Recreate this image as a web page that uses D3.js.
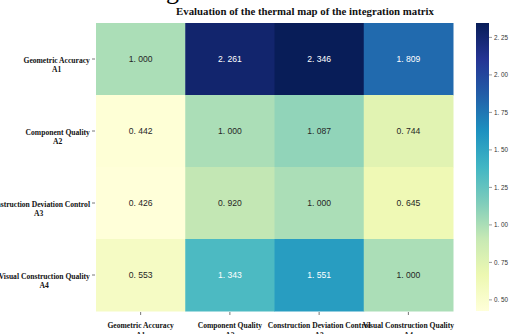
<!DOCTYPE html>
<html lang="en">
<head>
<meta charset="UTF-8">
<title>Integration matrix heatmap</title>
<script src="https://d3js.org/d3.v7.min.js"></script>
<style>
    body { margin: 0; background: #fff; }
    .lbl { font-family: "Liberation Serif", "Times New Roman", serif; font-weight: bold; font-size: 7.6px; fill: #111; }
    .cell-text { font-family: "Liberation Sans", Arial, sans-serif; font-size: 8.6px; }
    .cb-text { font-family: "Liberation Sans", Arial, sans-serif; font-size: 6.3px; fill: #333; }
</style>
</head>
<body>
<svg width="513" height="334"></svg>
<script>
    const rowNames = ["Geometric Accuracy", "Component Quality", "Construction Deviation Control", "Visual Construction Quality"];
    const rowCodes = ["A1", "A2", "A3", "A4"];
    const colNames = ["Geometric Accuracy", "Component Quality", "Construction Deviation Control", "Visual Construction Quality"];
    const colCodes = ["A1", "A2", "A3", "A4"];
    const matrix = [
        [1.000, 2.261, 2.346, 1.809],
        [0.442, 1.000, 1.087, 0.744],
        [0.426, 0.920, 1.000, 0.645],
        [0.553, 1.343, 1.551, 1.000]
    ];
    const cbTicks = [0.50, 0.75, 1.00, 1.25, 1.50, 1.75, 2.00, 2.25];
    const palette = ["#ffffd9", "#edf8b1", "#c7e9b4", "#7fcdbb", "#41b6c4", "#1d91c0", "#225ea8", "#253494", "#081d58"];

    const svg = d3.select("svg");
    const mLeft = 96, mRight = 453, mTop = 23, mBottom = 311;

    const x = d3.scaleBand().domain(d3.range(colNames.length)).range([mLeft, mRight]);
    const y = d3.scaleBand().domain(d3.range(rowNames.length)).range([mTop, mBottom]);

    const all = matrix.flat();
    const vmin = d3.min(all), vmax = d3.max(all);
    const color = d3.scaleLinear()
        .domain(palette.map((_, i) => vmin + (vmax - vmin) * i / (palette.length - 1)))
        .range(palette)
        .interpolate(d3.interpolateRgb);

    const fmt = v => d3.format(".3f")(v).replace(".", ". ");

    function lum(c) {
        const rgb = d3.rgb(c);
        const f = v => { v /= 255; return v <= 0.03928 ? v / 12.92 : Math.pow((v + 0.055) / 1.055, 2.4); };
        return 0.2126 * f(rgb.r) + 0.7152 * f(rgb.g) + 0.0722 * f(rgb.b);
    }

    // big title cut off at the top
    svg.append("text")
        .attr("x", 130).attr("y", -1)
        .style("font-family", "Liberation Serif, serif")
        .style("font-size", "26px")
        .text("Judgment Matrix");

    svg.append("text")
        .attr("class", "lbl")
        .attr("x", 305).attr("y", 15)
        .attr("text-anchor", "middle")
        .style("font-size", "10.8px")
        .text("Evaluation of the thermal map of the integration matrix");

    const cells = [];
    matrix.forEach((row, i) => row.forEach((v, j) => cells.push({i, j, v})));

    svg.append("g").selectAll("rect").data(cells).join("rect")
        .attr("x", d => x(d.j)).attr("y", d => y(d.i))
        .attr("width", x.bandwidth() + 0.5).attr("height", y.bandwidth() + 0.5)
        .attr("fill", d => color(d.v));

    svg.append("g").selectAll("text").data(cells).join("text")
        .attr("class", "cell-text")
        .attr("x", d => x(d.j) + x.bandwidth() / 2)
        .attr("y", d => y(d.i) + y.bandwidth() / 2)
        .attr("text-anchor", "middle")
        .attr("dominant-baseline", "central")
        .attr("fill", d => lum(color(d.v)) < 0.408 ? "#fff" : "#262626")
        .text(d => fmt(d.v));

    // y axis
    const yAxis = svg.append("g");
    rowNames.forEach((name, i) => {
        const cy = y(i) + y.bandwidth() / 2;
        yAxis.append("line").attr("x1", mLeft - 4).attr("x2", mLeft - 1)
            .attr("y1", cy).attr("y2", cy).attr("stroke", "#555").attr("stroke-width", 0.8);
        const t = yAxis.append("text").attr("class", "lbl").attr("text-anchor", "middle");
        t.append("tspan").attr("x", 54).attr("y", cy + 3.5).text(name);
        t.append("tspan").attr("x", 54).attr("y", cy + 13).text(rowCodes[i]);
    });
    // right edge of each label block at x=90
    yAxis.selectAll("text").each(function () {
        const bb = this.getBBox();
        const cx = 90 - bb.width / 2;
        d3.select(this).selectAll("tspan").attr("x", cx);
    });

    // x axis
    const xAxis = svg.append("g");
    colNames.forEach((name, j) => {
        const cx = x(j) + x.bandwidth() / 2;
        xAxis.append("line").attr("x1", cx).attr("x2", cx)
            .attr("y1", mBottom + 1).attr("y2", mBottom + 4).attr("stroke", "#555").attr("stroke-width", 0.8);
        const t = xAxis.append("text").attr("class", "lbl").attr("text-anchor", "middle");
        t.append("tspan").attr("x", cx).attr("y", 328).text(name);
        t.append("tspan").attr("x", cx).attr("y", 338).text(colCodes[j]);
    });

    // colorbar
    const cbX = 476, cbW = 13;
    const cbScale = d3.scaleLinear().domain([vmin, vmax]).range([mBottom, mTop]);
    const defs = svg.append("defs");
    const grad = defs.append("linearGradient").attr("id", "cbgrad")
        .attr("x1", 0).attr("y1", 1).attr("x2", 0).attr("y2", 0);
    palette.forEach((c, i) => grad.append("stop")
        .attr("offset", i / (palette.length - 1)).attr("stop-color", c));
    svg.append("rect").attr("x", cbX).attr("y", mTop).attr("width", cbW).attr("height", mBottom - mTop)
        .attr("fill", "url(#cbgrad)");

    const cbAxis = svg.append("g");
    cbTicks.forEach(v => {
        const ty = cbScale(v);
        cbAxis.append("line").attr("x1", cbX + cbW).attr("x2", cbX + cbW + 3)
            .attr("y1", ty).attr("y2", ty).attr("stroke", "#555").attr("stroke-width", 0.6);
        cbAxis.append("text").attr("class", "cb-text")
            .attr("x", cbX + cbW + 5).attr("y", ty)
            .attr("dominant-baseline", "central")
            .text(d3.format(".2f")(v).replace(".", ". "));
    });
</script>
</body>
</html>
